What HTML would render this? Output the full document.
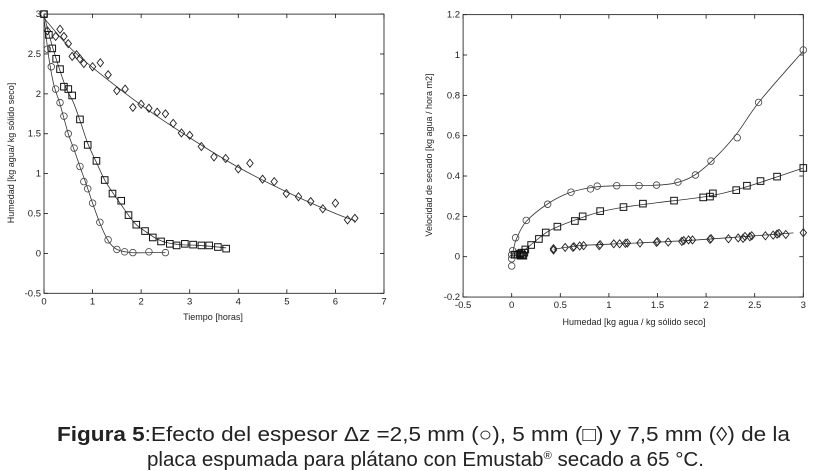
<!DOCTYPE html>
<html><head><meta charset="utf-8"><style>
html,body{margin:0;padding:0;background:#fff;width:820px;height:471px;overflow:hidden}
svg{display:block}
text{font-family:"Liberation Sans",sans-serif;fill:#222}
</style></head><body>
<svg id="s" width="820" height="471" xmlns="http://www.w3.org/2000/svg"></svg>
<script>
const S=document.getElementById('s');let h='';
function L(x0,y0,sx,sy){return {X:v=>x0+v*sx,Y:v=>y0-v*sy};}
const A=L(44,253.4,48.57,79.77);
const B=L(511.7,256.7,97.2,201.7);
function circ(m,pts){pts.forEach(p=>{h+=`<circle cx="${m.X(p[0])}" cy="${m.Y(p[1])}" r="3.3" fill="none" stroke="#444" stroke-width="0.8"/>`;});}
function sq(m,pts){pts.forEach(p=>{h+=`<rect x="${m.X(p[0])-3.3}" y="${m.Y(p[1])-3.3}" width="6.6" height="6.6" fill="none" stroke="#111" stroke-width="1"/>`;});}
function dia(m,pts){pts.forEach(p=>{let x=m.X(p[0]),y=m.Y(p[1]);h+=`<path d="M${x} ${y-4}L${x+3.2} ${y}L${x} ${y+4}L${x-3.2} ${y}Z" fill="none" stroke="#222" stroke-width="0.9"/>`;});}
function curve(m,pts,col){let P=pts.map(p=>[m.X(p[0]),m.Y(p[1])]);let d=`M${P[0][0]} ${P[0][1]}`;
for(let i=0;i<P.length-1;i++){let p0=P[i-1]||P[i],p1=P[i],p2=P[i+1],p3=P[i+2]||p2;
d+=`C${p1[0]+(p2[0]-p0[0])/6} ${p1[1]+(p2[1]-p0[1])/6} ${p2[0]-(p3[0]-p1[0])/6} ${p2[1]-(p3[1]-p1[1])/6} ${p2[0]} ${p2[1]}`;}
h+=`<path d="${d}" fill="none" stroke="${col||'#333'}" stroke-width="0.8"/>`;}
function axes(m,x0,x1,y0,y1,xt,yt,fmtx,fmty){
 let L=m.X(x0),R=m.X(x1),T=m.Y(y1),Bt=m.Y(y0);
 h+=`<rect x="${L}" y="${T}" width="${R-L}" height="${Bt-T}" fill="none" stroke="#111" stroke-width="0.8"/>`;
 xt.forEach(v=>{let x=m.X(v);h+=`<line x1="${x}" y1="${Bt}" x2="${x}" y2="${Bt-4}" stroke="#111" stroke-width="0.8"/><line x1="${x}" y1="${T}" x2="${x}" y2="${T+4}" stroke="#111" stroke-width="0.8"/><text x="${x}" y="${Bt+11}" font-size="9.5" text-anchor="middle">${fmtx(v)}</text>`;});
 yt.forEach(v=>{let y=m.Y(v);h+=`<line x1="${L}" y1="${y}" x2="${L+4}" y2="${y}" stroke="#111" stroke-width="0.8"/><line x1="${R}" y1="${y}" x2="${R-4}" y2="${y}" stroke="#111" stroke-width="0.8"/><text x="${L-3}" y="${y+3}" font-size="9.5" text-anchor="end">${fmty(v)}</text>`;});
}
const f=v=>String(+v.toFixed(2));
axes(A,0,7,-0.5,3,[0,1,2,3,4,5,6,7],[-0.5,0,0.5,1,1.5,2,2.5,3],f,f);
h+=`<text x="213" y="320" font-size="9" text-anchor="middle">Tiempo [horas]</text>`;
h+=`<text transform="translate(14,153) rotate(-90)" font-size="9" text-anchor="middle">Humedad [kg agua/ kg sólido seco]</text>`;
axes(B,-0.5,3,-0.2,1.2,[-0.5,0,0.5,1,1.5,2,2.5,3],[-0.2,0,0.2,0.4,0.6,0.8,1,1.2],f,f);
h+=`<text x="634" y="325" font-size="9" text-anchor="middle">Humedad [kg agua / kg sólido seco]</text>`;
h+=`<text transform="translate(432,155) rotate(-90)" font-size="9" text-anchor="middle">Velocidad de secado [kg agua / hora m2]</text>`;
const c1=[[0,3],[0.07,2.56],[0.15,2.34],[0.24,2.06],[0.33,1.89],[0.41,1.72],[0.5,1.5],[0.62,1.32],[0.74,1.09],[0.82,0.9],[0.9,0.81],[1.0,0.63],[1.15,0.39],[1.32,0.17],[1.5,0.05],[1.66,0.02],[1.83,0.01],[2.16,0.02],[2.5,0.01]];
const s1=[[0,3],[0.1,2.74],[0.17,2.57],[0.25,2.44],[0.33,2.31],[0.41,2.09],[0.5,2.06],[0.58,1.98],[0.74,1.68],[0.9,1.36],[1.08,1.16],[1.25,0.92],[1.41,0.75],[1.59,0.66],[1.74,0.48],[1.9,0.36],[2.08,0.28],[2.24,0.2],[2.41,0.15],[2.59,0.12],[2.73,0.1],[2.9,0.12],[3.07,0.11],[3.24,0.1],[3.4,0.1],[3.58,0.08],[3.75,0.06]];
const d1=[[0.07,2.79],[0.24,2.72],[0.33,2.81],[0.41,2.72],[0.5,2.63],[0.58,2.47],[0.67,2.49],[0.74,2.44],[0.82,2.38],[1.0,2.34],[1.16,2.39],[1.32,2.24],[1.5,2.04],[1.67,2.06],[1.83,1.83],[2.0,1.87],[2.16,1.82],[2.33,1.77],[2.5,1.75],[2.66,1.63],[2.83,1.51],[3.0,1.48],[3.24,1.34],[3.5,1.21],[3.74,1.19],[4.0,1.06],[4.24,1.13],[4.5,0.93],[4.74,0.9],[4.99,0.75],[5.24,0.71],[5.49,0.65],[5.74,0.56],[6.0,0.63],[6.25,0.42],[6.4,0.44]];
curve(A,[[0,2.95],[0.5,2.6],[1,2.33],[2,1.86],[3,1.45],[4,1.08],[5,0.77],[6,0.5],[6.4,0.41]]);
curve(A,[[0,3],[0.1,2.75],[0.25,2.44],[0.45,2.08],[0.6,1.9],[0.75,1.65],[0.9,1.38],[1.08,1.14],[1.25,0.92],[1.45,0.73],[1.6,0.6],[1.75,0.47],[1.9,0.36],[2.1,0.27],[2.3,0.19],[2.5,0.14],[2.8,0.11],[3.2,0.1],[3.75,0.07]]);
curve(A,[[0,2.95],[0.1,2.45],[0.2,2.12],[0.33,1.87],[0.5,1.5],[0.62,1.3],[0.75,1.07],[0.88,0.85],[1.0,0.63],[1.15,0.38],[1.32,0.16],[1.5,0.05],[1.8,0.01],[2.2,0.01],[2.5,0.01]]);
circ(A,c1);sq(A,s1);dia(A,d1);
const c2=[[0,-0.046],[0,-0.01],[0,0.01],[0.01,0.03],[0.04,0.094],[0.15,0.18],[0.37,0.26],[0.61,0.32],[0.81,0.336],[0.88,0.35],[1.08,0.352],[1.31,0.352],[1.49,0.355],[1.71,0.37],[1.89,0.405],[2.05,0.474],[2.32,0.59],[2.54,0.765],[3,1.025]];
const s2=[[0.03,0.01],[0.06,0.01],[0.08,0.015],[0.09,0.005],[0.1,0.02],[0.11,0.01],[0.12,0.005],[0.13,0.02],[0.14,0.036],[0.2,0.058],[0.28,0.088],[0.35,0.12],[0.47,0.149],[0.65,0.177],[0.73,0.2],[0.91,0.226],[1.15,0.246],[1.35,0.263],[1.67,0.278],[1.97,0.294],[2.04,0.298],[2.07,0.314],[2.31,0.33],[2.42,0.352],[2.56,0.375],[2.73,0.397],[3,0.44]];
const d2=[[0.43,0.033],[0.43,0.04],[0.55,0.046],[0.63,0.046],[0.64,0.05],[0.7,0.053],[0.74,0.055],[0.9,0.055],[0.91,0.06],[1.05,0.064],[1.11,0.064],[1.17,0.066],[1.19,0.068],[1.32,0.068],[1.49,0.071],[1.5,0.075],[1.61,0.073],[1.75,0.076],[1.77,0.08],[1.82,0.083],[1.86,0.083],[2.04,0.086],[2.05,0.09],[2.23,0.089],[2.33,0.093],[2.38,0.091],[2.4,0.1],[2.45,0.099],[2.47,0.104],[2.61,0.104],[2.69,0.107],[2.73,0.112],[2.75,0.116],[2.82,0.11],[3,0.119]];
curve(B,[[0,-0.01],[0.02,0.04],[0.05,0.09],[0.15,0.175],[0.37,0.262],[0.6,0.318],[0.85,0.345],[1.1,0.352],[1.4,0.353],[1.65,0.362],[1.85,0.395],[2.05,0.47],[2.3,0.6],[2.55,0.77],[3,1.02]]);
curve(B,[[0.02,0.005],[0.1,0.015],[0.14,0.036],[0.2,0.06],[0.35,0.118],[0.47,0.148],[0.7,0.19],[0.91,0.222],[1.15,0.245],[1.5,0.268],[1.8,0.285],[2.05,0.302],[2.3,0.33],[2.6,0.375],[3,0.44]]);
curve(B,[[0.43,0.036],[0.7,0.055],[1.2,0.066],[1.8,0.08],[2.4,0.1],[2.9,0.118]]);
circ(B,c2);sq(B,s2);dia(B,d2);
h+=`<text x="57" y="441" font-size="20" textLength="733" lengthAdjust="spacingAndGlyphs"><tspan font-weight="bold">Figura 5</tspan>:Efecto del espesor  Δz =2,5 mm (○), 5 mm (□) y 7,5 mm (◊) de la</text>`;
h+=`<text x="147" y="466" font-size="20" textLength="557" lengthAdjust="spacingAndGlyphs">placa espumada para plátano con Emustab<tspan font-size="11" dy="-7">®</tspan><tspan dy="7"> secado a 65 °C.</tspan></text>`;
S.innerHTML=h;
</script>
</body></html>
